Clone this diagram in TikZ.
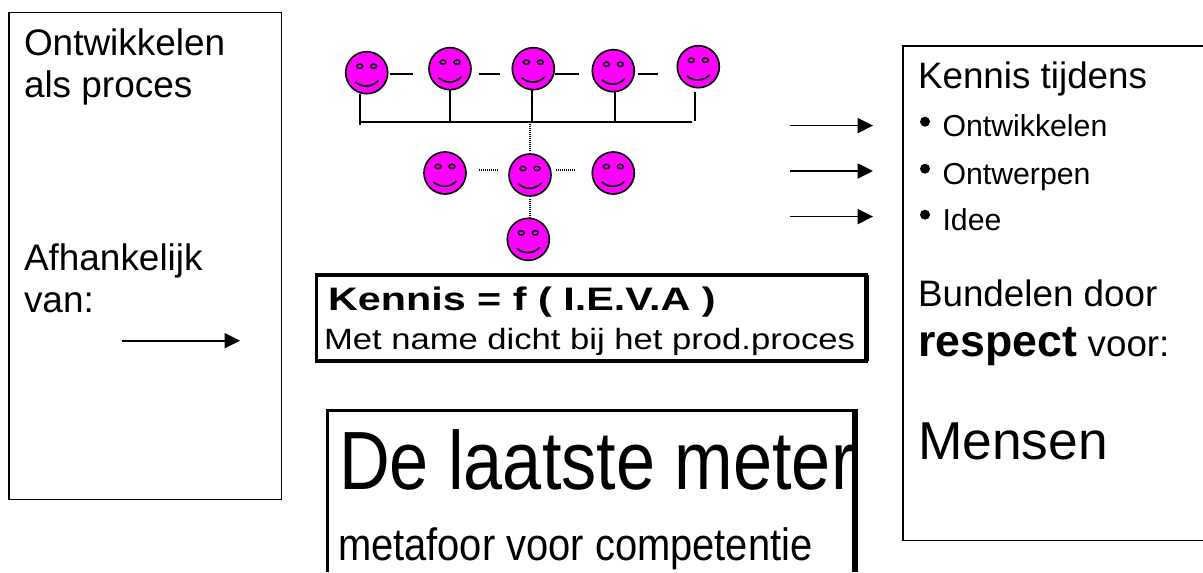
\documentclass[tikz,border=0pt]{standalone}
\usepackage{fontspec}
\setmainfont{Liberation Sans}
\newfontfamily\condA[FakeStretch=0.85]{Liberation Sans}
\newfontfamily\condB[FakeStretch=0.88]{Liberation Sans}
\newfontfamily\wideA[FakeStretch=1.27]{Liberation Sans Bold}
\newfontfamily\wideB[FakeStretch=1.18]{Liberation Sans}
\usetikzlibrary{arrows.meta,calc}
\newcommand{\fs}[1]{\fontsize{#1}{#1}\selectfont}
\definecolor{smileface}{RGB}{255,0,255}
\tikzset{
  x=0.75pt,y=-0.75pt,
  face/.style={circle,draw=black,fill=smileface,line width=1.25pt,minimum size=31.5pt,inner sep=0pt,outer sep=0pt,
    path picture={
      \begin{scope}[shift={(path picture bounding box.center)}]
        \draw[line width=1.1pt] (-7,-6.5) ellipse[x radius=3,y radius=2.2];
        \draw[line width=1.1pt] (7,-6.5) ellipse[x radius=3,y radius=2.2];
        \draw[line width=1.25pt] (-11.5,9) .. controls (-5,15) and (5,15) .. (11.5,8);
      \end{scope}}},
  link/.style={line width=1.25pt,black},
  dots/.style={line width=1pt,black,dash pattern=on 0.75pt off 0.75pt},
  arrowline/.style={line width=1.2pt,black,-{Triangle[length=11.5pt,width=11.25pt]}},
  lbl/.style={anchor=base west,inner sep=0pt,outer sep=0pt},
  panel/.style={draw=black,line width=1pt,fill=none,anchor=north west,inner sep=0pt,outer sep=0pt},
  heavy/.style={draw=black,line width=2.3pt,fill=none,anchor=north west,inner sep=0pt,outer sep=0pt},
}
\begin{document}
\begin{tikzpicture}
\useasboundingbox (0,0) rectangle (1203,572);
% boxes
\node[panel,minimum width=204.5pt,minimum height=365pt] (left) at (9,12.5) {};
\node[panel,minimum width=240pt,minimum height=371pt] (right) at (903,46) {};
\node[heavy,minimum width=412.7pt,minimum height=64.5pt] (kbox) at (316.5,275) {};
\draw[line width=3.7pt] (kbox.north east) -- (kbox.south east);
\draw[line width=3.4pt] (kbox.south west) -- (kbox.south east);
% left texts
\node[lbl,font=\fs{27.7}] (t1) at (24,55) {Ontwikkelen};
\node[lbl,font=\fs{27.7}] (t2) at (24,97) {als proces};
\node[lbl,font=\fs{27.7}] (t3) at (24,270.7) {Afhankelijk};
\node[lbl,font=\fs{27.7}] (t4) at (24,312.7) {van:};
\coordinate (la) at (121.5,340.7);
\coordinate (lb) at (240,340.7);
\draw[arrowline] (la) -- (lb);
% faces
\node[face] (f1) at (366.7,72.7) {};
\node[face] (f2) at (450,68.7) {};
\node[face] (f3) at (533.3,68.7) {};
\node[face] (f4) at (613.3,70.7) {};
\node[face] (f5) at (698.3,66.7) {};
\node[face] (m1) at (445,173) {};
\node[face] (m2) at (530,175) {};
\node[face] (m3) at (613.3,173) {};
\node[face] (b0) at (528.3,239.3) {};
% solid links
\draw[link,shorten <=2,shorten >=12] ([yshift=-0.75pt]f1.east) -- ([yshift=-3.75pt]f2.west);
\draw[link,shorten <=5.7,shorten >=9.3] ([yshift=-3.75pt]f2.east) -- ([yshift=-3.75pt]f3.west);
\draw[link,shorten <=0.7,shorten >=10.3] ([yshift=-3.75pt]f3.east) -- ([yshift=-2.25pt]f4.west);
\draw[link,shorten <=2.7,shorten >=14.3] ([yshift=-2.25pt]f4.east) -- ([yshift=-5.25pt]f5.west);
% bus
\coordinate (b1) at (360,124.5);
\coordinate (bW) at (360,121.7);
\coordinate (b2) at (450,121.7);
\coordinate (b3) at (532,121.7);
\coordinate (b4) at (615,121.7);
\coordinate (b5) at (695,121);
\coordinate (bE) at (692,121.7);
\coordinate (bm) at (530,121.7);
\draw[link,line width=1.5pt] (bW) -- (bE);
\draw[link] (b1) -- (b1 |- f1.south);
\draw[link] (b2) -- (b2 |- f2.south);
\draw[link] (b3) -- (b3 |- f3.south);
\draw[link] (b4) -- (b4 |- f4.south);
\draw[link,line width=2.2pt,shorten >=3] (b5) -- (b5 |- f5.south);
% dotted links
\draw[dots,shorten >=3] (bm) -- (m2.north);
\draw[dots,shorten <=10,shorten >=8] ([yshift=2.25pt]m1.east) -- ([yshift=3.75pt]m2.west);
\draw[dots,shorten <=4,shorten >=13] ([yshift=3.75pt]m2.east) -- ([yshift=2.25pt]m3.west);
\draw[dots,shorten <=2] (m2.south) -- (m2.south |- b0.north);
% arrows to right box
\foreach \n/\y in {1/125.6,2/171,3/216.6}{
  \coordinate (ra\n) at (790,\y);
  \coordinate (rb\n) at (873,\y);
  \draw[arrowline] (ra\n) -- (rb\n);
}
% right texts
\node[lbl,font=\fs{27.6}] (r1) at (918,88) {Kennis tijdens};
\foreach \n/\y/\txt in {1/136.7/Ontwikkelen,2/184/Ontwerpen,3/230/Idee}{
  \node[lbl,font=\fs{22.7}] (rt\n) at (942.5,\y) {\txt};
}
\fill (925,121.7) circle[radius=5];
\fill (925,168.7) circle[radius=5];
\fill (925,214.7) circle[radius=5];
\node[lbl,font=\fs{27.6}] (r2) at (918,306.7) {Bundelen door};
\node[lbl,font=\fs{27.6}] (r3) at (918.5,356.7) {{\fs{33.5}\bfseries respect} voor:};
\node[lbl,font=\fs{40}] (r4) at (918,459.3) {Mensen};
% Kennis box texts
\node[lbl,font=\fs{24.4}\wideA] (k1) at (328,310) {Kennis = f ( I.E.V.A )};
\node[lbl,font=\fs{22}\wideB] (k2) at (324,349) {Met name dicht bij het prod.proces};
% laatste meter
\coordinate (lmA) at (327.6,572);
\coordinate (lmB) at (327.6,410.8);
\coordinate (lmC) at (855,410.8);
\coordinate (lmD) at (855,572);
\draw[line width=2.3pt] (lmA) -- (lmB);
\draw[line width=2.3pt] (326,410.8) -- (858,410.8);
\draw[line width=4.9pt] (lmC) -- (lmD);
\node[lbl,font=\fs{62}\condA] (m5) at (339,489) {De laatste meter};
\node[lbl,font=\fs{34}\condB] (m6) at (338,560) {metafoor voor competentie};
\end{tikzpicture}
\end{document}
